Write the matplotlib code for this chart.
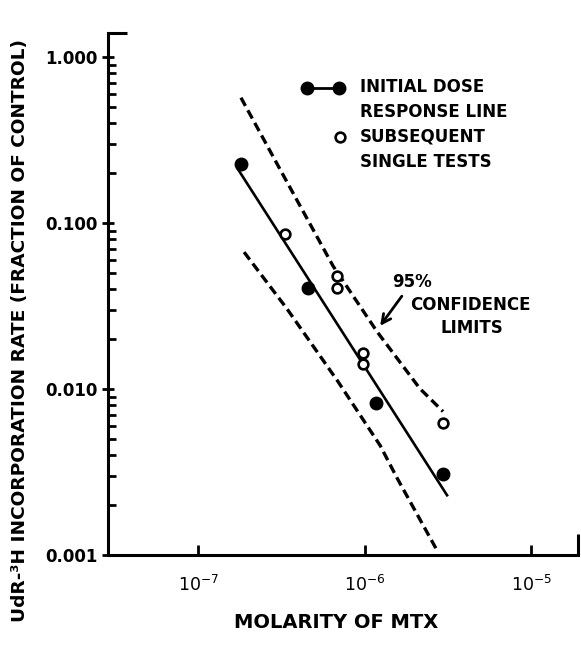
import matplotlib
matplotlib.use("Agg")
import matplotlib.pyplot as plt
from matplotlib.ticker import NullLocator, LogLocator

# ---- data ----
initial_x = [1.81e-7, 4.58e-7, 1.17e-6, 2.96e-6]
initial_y = [0.228, 0.0406, 0.00828, 0.00306]

subsequent_x = [3.33e-7, 6.84e-7, 6.84e-7, 9.8e-7, 9.8e-7, 2.96e-6]
subsequent_y = [0.0855, 0.0479, 0.0406, 0.0165, 0.0142, 0.00628]

fit_x = [1.74e-7, 3.13e-6]
fit_y = [0.210, 0.00229]

upper_x = [1.81e-7, 3.11e-7, 6.47e-7, 1.19e-6, 2.15e-6, 2.96e-6]
upper_y = [0.568, 0.210, 0.0550, 0.0221, 0.01005, 0.00732]

lower_x = [1.89e-7, 3.42e-7, 6.93e-7, 1.24e-6, 1.57e-6, 2.72e-6]
lower_y = [0.0667, 0.0304, 0.01107, 0.00457, 0.00290, 0.00107]

ytick_vals = [1.0, 0.1, 0.01, 0.001]
ytick_labels = ["1.000", "0.100", "0.010", "0.001"]
xtick_vals = [1e-7, 1e-6, 1e-5]

W, H = 581, 647
AX_L, AX_R, AX_T, AX_B = 108, 578, 33, 555


def px_to_ax(x, y):
    return (x - AX_L) / (AX_R - AX_L), (AX_B - y) / (AX_B - AX_T)


plt.rcParams["font.family"] = ["DejaVu Sans"]
fig = plt.figure(figsize=(W / 100, H / 100), dpi=100)
ax = fig.add_axes([AX_L / W, 1 - AX_B / H, (AX_R - AX_L) / W, (AX_B - AX_T) / H])
ax.set_xscale("log")
ax.set_yscale("log")
ax.set_xlim(10 ** -7.541, 10 ** -4.718)
ax.set_ylim(0.001, 10 ** 0.144)

for s in ("top", "right"):
    ax.spines[s].set_visible(False)
for s in ("left", "bottom"):
    ax.spines[s].set_linewidth(2.2)

# frame corner stubs
ax.plot([0, 0.04], [1, 1], transform=ax.transAxes, color="k", lw=2.2, clip_on=False,
        solid_capstyle="butt")
ax.plot([1, 1], [0, 0.04], transform=ax.transAxes, color="k", lw=2.2, clip_on=False,
        solid_capstyle="butt")

# confidence limits
dash = (0, (2.8, 1.5))
ax.plot(upper_x, upper_y, color="k", lw=2.4, linestyle=dash)
ax.plot(lower_x, lower_y, color="k", lw=2.4, linestyle=dash)

# dose response line
ax.plot(fit_x, fit_y, color="k", lw=1.9)
ax.plot(initial_x, initial_y, "o", color="k", ms=9, zorder=4)
ax.plot(subsequent_x, subsequent_y, "o", mfc="white", mec="k", mew=1.9, ms=7, zorder=4)

# ticks
ax.set_xticks(xtick_vals)
ax.xaxis.set_minor_locator(NullLocator())
ax.set_yticks(ytick_vals)
ax.set_yticklabels(ytick_labels, fontweight="bold")
ax.yaxis.set_minor_locator(LogLocator(base=10, subs=range(2, 10)))
ax.yaxis.set_minor_formatter(plt.NullFormatter())
ax.tick_params(axis="x", which="major", direction="in", length=7, width=2, labelsize=12.5, pad=14)
ax.tick_params(axis="y", which="major", direction="inout", length=9, width=2, labelsize=12, pad=3)
ax.tick_params(axis="y", which="minor", direction="in", length=6, width=2)

# legend (drawn by hand to match the original layout)
kx0, ky = px_to_ax(307, 88)
kx1, _ = px_to_ax(339, 88)
ax.plot([kx0, kx1], [ky, ky], "-o", color="k", lw=2, ms=9, transform=ax.transAxes, clip_on=False)
ox, oy = px_to_ax(340, 137)
ax.plot([ox], [oy], "o", mfc="white", mec="k", mew=1.9, ms=7, transform=ax.transAxes)
for txt, yy in [("INITIAL DOSE", 87), ("RESPONSE LINE", 112), ("SUBSEQUENT", 136),
                ("SINGLE TESTS", 162)]:
    tx, ty = px_to_ax(360, yy)
    ax.text(tx, ty, txt, transform=ax.transAxes, fontsize=12, fontweight="bold",
            ha="left", va="center")

# confidence annotation
ax.annotate("95%", xy=(1.24e-6, 0.024), xytext=(1.93e-6, 0.044), fontsize=12,
            fontweight="bold", ha="center", va="center",
            arrowprops=dict(arrowstyle="->", lw=2, color="k", mutation_scale=16,
                            shrinkA=2, shrinkB=0))
cx, cy = px_to_ax(470, 305)
ax.text(cx, cy, "CONFIDENCE", transform=ax.transAxes, fontsize=12, fontweight="bold",
        ha="center", va="center")
lx, ly = px_to_ax(472, 328)
ax.text(lx, ly, "LIMITS", transform=ax.transAxes, fontsize=12, fontweight="bold",
        ha="center", va="center")

# axis titles
fig.text(336 / W, 1 - 622 / H, "MOLARITY OF MTX", fontsize=14, fontweight="bold",
         ha="center", va="center")
fig.text(20 / W, 1 - 330 / H, "UdR-\u00b3H INCORPORATION RATE (FRACTION OF CONTROL)",
         fontsize=13.3, fontweight="bold", rotation=90, ha="center", va="center")

fig.savefig("out.png", dpi=100, facecolor="white")
